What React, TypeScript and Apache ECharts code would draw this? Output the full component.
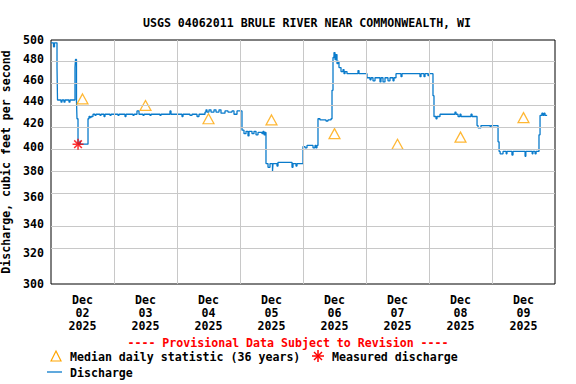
import React, { useEffect, useRef } from "react";
import * as echarts from "echarts";

const TITLE = "USGS 04062011 BRULE RIVER NEAR COMMONWEALTH, WI";
const yTicks = [300, 320, 340, 360, 380, 400, 420, 440, 460, 480, 500];
const dayLabels = ["02", "03", "04", "05", "06", "07", "08", "09"];
const dayHours = [0, 24, 48, 72, 96, 120, 144, 168, 192];

// hours since Dec 02 2025 00:00
const dischargeHours = [
  0, 0.95, 1.33, 2.29, 2.48, 3.81, 4.19, 4.95, 5.33, 6.86, 7.24, 9.14, 9.33, 9.71, 9.9, 10.29,
  11.05, 11.24, 14.1, 14.48, 14.86, 15.24, 16.0, 16.76, 17.14, 18.67, 19.05, 20.19, 20.57, 22.48,
  22.86, 25.52, 25.9, 28.19, 28.57, 31.24, 31.62, 32.76, 33.52, 35.05, 35.43, 37.71, 38.1, 41.52,
  41.9, 45.33, 45.71, 49.9, 50.29, 52.95, 53.71, 55.62, 56.38, 58.67, 59.05, 59.43, 60.19, 60.95,
  62.1, 62.86, 64.0, 64.76, 66.29, 67.43, 68.95, 69.71, 70.86, 72.76, 73.52, 74.29, 75.05, 75.43,
  76.57, 77.33, 78.1, 78.86, 80.38, 80.76, 81.14, 81.52, 81.9, 82.67, 83.43, 84.38, 84.57, 86.1,
  86.48, 91.81, 92.19, 93.33, 93.71, 96.0, 96.76, 97.52, 99.81, 100.57, 100.95, 101.33, 101.71,
  102.48, 104.76, 105.52, 106.67, 107.05, 107.43, 107.81, 108.19, 108.57, 108.95, 109.33, 109.71,
  110.48, 111.24, 111.62, 112.0, 112.76, 116.95, 117.33, 120.38, 121.52, 121.9, 122.67, 123.43,
  125.33, 125.71, 126.48, 127.24, 128.38, 129.14, 130.29, 130.67, 131.43, 133.33, 133.71, 140.57,
  140.95, 142.1, 142.48, 143.62, 144.0, 145.52, 145.9, 146.67, 147.05, 148.19, 153.9, 154.29,
  155.05, 155.81, 156.19, 160.0, 160.4, 162.3, 162.7, 163.8, 167.3, 167.6, 170.3, 170.7, 171.1,
  172.2, 173.4, 173.7, 175.6, 176.0, 180.6, 180.9, 183.3, 183.6, 184.4, 184.8, 185.9, 186.3,
  187.0, 187.4, 187.8, 188.2, 189.0,
];
const dischargeValues = [
  497, 493, 497, 472, 441, 439, 441, 439, 441, 439, 441, 472, 480, 440, 424, 402,
  405, 402, 424, 426, 425, 426, 428, 427, 428, 427, 428, 426, 428, 427,
  428, 427, 428, 426, 428, 427, 428, 431, 428, 427, 428, 427, 428, 427,
  428, 431, 428, 426, 428, 427, 428, 426, 428, 430, 432, 430, 432, 430,
  432, 430, 432, 429, 431, 430, 431, 428, 431, 414, 411, 413, 409, 413,
  411, 413, 410, 412, 411, 413, 410, 412, 386, 383, 386, 380, 386, 384,
  387, 383, 386, 384, 386, 400, 399, 401, 399, 401, 399, 401, 424,
  423, 422, 423, 424, 450, 482, 487, 480, 485, 476, 478, 472,
  468, 470, 466, 468, 466, 469, 466, 462, 460, 462, 459, 462,
  458, 462, 458, 462, 459, 462, 459, 462, 466, 463, 466, 463,
  466, 463, 466, 464, 466, 445, 426, 424, 426, 428, 430, 428,
  426, 428, 426, 428, 426, 418, 416, 418, 417, 418, 404, 396, 394,
  396, 394, 396, 393, 396, 392, 396, 394, 396, 394, 396, 410, 427,
  429, 427, 429, 427, 427,
];

const medianHours = [12, 36, 60, 84, 108, 132, 156, 180];
const medianValues = [442, 436, 424, 423, 411, 402, 408, 425];
const measuredHours = [10.3];
const measuredValues = [402];

const FONT = "'DejaVu Sans Mono', monospace";
const FS = 11.6;
const L = (v: number) => Math.log10(v);

export default function App() {
  const ref = useRef<HTMLDivElement>(null);
  useEffect(() => {
    if (!ref.current) return;
    const chart = echarts.init(ref.current, null, { renderer: "svg" });
    const gridLine = { color: "#c8c8c8", width: 1, type: "solid" as const };
    const option: any = {
      animation: false,
      backgroundColor: "#fff",
      textStyle: { fontFamily: FONT, fontWeight: "bold", fontSize: FS, color: "#000" },
      title: {
        text: TITLE,
        left: 302,
        textAlign: "center",
        top: 12,
        textStyle: { fontFamily: FONT, fontWeight: "bold", fontSize: FS, color: "#000" },
      },
      grid: {
        left: 51, right: 21, top: 40, bottom: 100,
        show: true, borderColor: "#000", borderWidth: 1,
        containLabel: false, outerBoundsMode: "none",
      },
      xAxis: {
        type: "value",
        min: 0, max: 192, interval: 24,
        axisLine: { show: false }, axisTick: { show: false }, splitLine: { show: false },
        axisLabel: {
          customValues: medianHours,
          margin: 9,
          lineHeight: 13,
          fontFamily: FONT, fontWeight: "bold", fontSize: FS, color: "#000",
          formatter: (v: number) => "Dec\n" + dayLabels[Math.floor(v / 24)] + "\n2025",
        },
      },
      yAxis: {
        type: "value",
        min: L(300), max: L(500),
        axisLine: { show: false }, axisTick: { show: false }, splitLine: { show: false },
        name: "Discharge, cubic feet per second",
        nameLocation: "middle",
        nameRotate: 90,
        nameGap: 28,
        nameTextStyle: { fontFamily: FONT, fontWeight: "bold", fontSize: FS, color: "#000" },
        axisLabel: {
          customValues: yTicks.map(L),
          margin: 7,
          fontFamily: FONT, fontWeight: "bold", fontSize: FS, color: "#000",
          formatter: (v: number) => String(Math.round(Math.pow(10, v))),
        },
      },
      series: [
        {
          type: "line",
          data: [],
          z: 1,
          silent: true,
          markLine: {
            silent: true,
            symbol: "none",
            label: { show: false },
            lineStyle: gridLine,
            data: [
              ...yTicks.slice(1, -1).map((t) => ({ yAxis: L(t) })),
              ...dayHours.slice(1, -1).map((h) => ({ xAxis: h })),
            ],
          },
        },
        {
          type: "line",
          name: "Discharge",
          step: "end",
          showSymbol: false,
          symbol: "none",
          z: 3,
          lineStyle: { color: "#0a7bcb", width: 1.3 },
          data: dischargeHours.map((h, i) => [h, L(dischargeValues[i])]),
        },
        {
          type: "scatter",
          name: "Median daily statistic (36 years)",
          symbol: "triangle",
          symbolSize: [11, 10],
          z: 4,
          itemStyle: { color: "rgba(0,0,0,0)", borderColor: "#ffa500", borderWidth: 1.2 },
          data: medianHours.map((h, i) => [h, L(medianValues[i])]),
        },
        {
          type: "scatter",
          name: "Measured discharge",
          symbol: "path://M0,5L10,5M5,0L5,10M1.5,1.5L8.5,8.5M8.5,1.5L1.5,8.5",
          symbolSize: 11,
          z: 5,
          itemStyle: { color: "rgba(0,0,0,0)", borderColor: "#ff0000", borderWidth: 1.5 },
          data: measuredHours.map((h, i) => [h, L(measuredValues[i])]),
        },
      ],
      graphic: [
        {
          type: "text", left: "center", top: 337,
          style: { text: "---- Provisional Data Subject to Revision ----", fill: "#ff0000", font: `bold ${FS}px ${FONT}` },
        },
        {
          type: "polygon",
          shape: { points: [[51, 361], [56, 351], [61, 361]] },
          style: { fill: "none", stroke: "#ffa500", lineWidth: 1.2 },
        },
        {
          type: "text", x: 70, y: 351,
          style: { text: "Median daily statistic (36 years)", fill: "#000", font: `bold ${FS}px ${FONT}` },
        },
        { type: "line", shape: { x1: 312, y1: 356, x2: 324, y2: 356 }, style: { stroke: "#f00", lineWidth: 1.5 } },
        { type: "line", shape: { x1: 318, y1: 350, x2: 318, y2: 362 }, style: { stroke: "#f00", lineWidth: 1.5 } },
        { type: "line", shape: { x1: 314, y1: 352, x2: 322, y2: 360 }, style: { stroke: "#f00", lineWidth: 1.5 } },
        { type: "line", shape: { x1: 322, y1: 352, x2: 314, y2: 360 }, style: { stroke: "#f00", lineWidth: 1.5 } },
        {
          type: "text", x: 332, y: 351,
          style: { text: "Measured discharge", fill: "#000", font: `bold ${FS}px ${FONT}` },
        },
        { type: "line", shape: { x1: 47, y1: 372, x2: 62, y2: 372 }, style: { stroke: "#0a7bcb", lineWidth: 1.3 } },
        {
          type: "text", x: 70, y: 367,
          style: { text: "Discharge", fill: "#000", font: `bold ${FS}px ${FONT}` },
        },
      ],
    };
    chart.setOption(option);
    return () => chart.dispose();
  }, []);
  return <div ref={ref} style={{ width: 576, height: 384, position: "absolute", left: 0, top: 0 }} />;
}
